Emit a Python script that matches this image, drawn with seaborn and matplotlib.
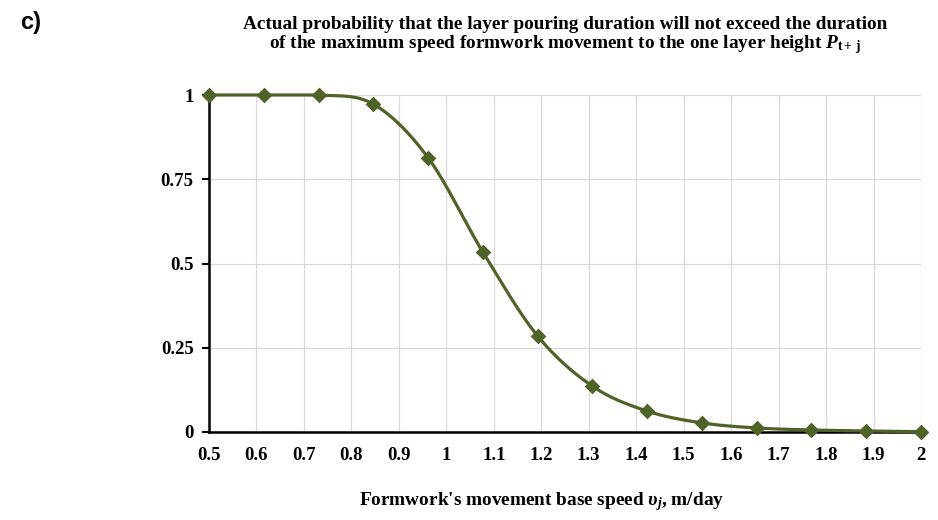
import numpy as np
import pandas as pd
import matplotlib
matplotlib.use("Agg")
import matplotlib.pyplot as plt
import seaborn as sns

# ---- data ----
speed = [0.5, 0.6154, 0.7308, 0.8462, 0.9615, 1.0769, 1.1923, 1.3077,
         1.4231, 1.5385, 1.6538, 1.7692, 1.8846, 2.0]
prob = [1.0, 1.0, 1.0, 0.973, 0.814, 0.534, 0.285, 0.136,
        0.062, 0.027, 0.012, 0.006, 0.003, 0.001]
x_ticks = [0.5, 0.6, 0.7, 0.8, 0.9, 1.0, 1.1, 1.2, 1.3, 1.4, 1.5, 1.6, 1.7, 1.8, 1.9, 2.0]
y_ticks = [0, 0.25, 0.5, 0.75, 1]
y_tick_labels = ["0", "0.25", "0.5", "0.75", "1"]

LINE = "#4f6228"
GRID = "#d9d9d9"

sns.set_theme(style="white")
plt.rcParams["font.family"] = ["Liberation Serif", "DejaVu Serif"]
plt.rcParams["mathtext.fontset"] = "custom"
plt.rcParams["mathtext.rm"] = "Liberation Serif:bold"
plt.rcParams["mathtext.bf"] = "Liberation Serif:bold"
plt.rcParams["mathtext.it"] = "Liberation Serif:italic:bold"
plt.rcParams["text.color"] = "black"
plt.rcParams["xtick.color"] = "black"
plt.rcParams["ytick.color"] = "black"
plt.rcParams["axes.labelcolor"] = "black"


def catmull_rom(xp, yp, n=30):
    """Smooth rendering of the line through the data points (like Excel's smoothed line)."""
    P = np.column_stack([xp, yp])
    P = np.vstack([P[0] - (P[1] - P[0]), P, P[-1] + (P[-1] - P[-2])])
    out = []
    t = np.linspace(0, 1, n, endpoint=False)[:, None]
    for i in range(1, len(P) - 2):
        p0, p1, p2, p3 = P[i - 1], P[i], P[i + 1], P[i + 2]
        seg = 0.5 * ((2 * p1) + (-p0 + p2) * t + (2 * p0 - 5 * p1 + 4 * p2 - p3) * t ** 2
                     + (-p0 + 3 * p1 - 3 * p2 + p3) * t ** 3)
        out.append(seg)
    out.append(P[-2][None, :])
    out = np.vstack(out)
    return out[:, 0], out[:, 1]


fig = plt.figure(figsize=(9.38, 5.2), dpi=100)
ax = fig.add_axes([209 / 938, 1 - 432 / 520, (921 - 209) / 938, (432 - 95) / 520])

cx, cy = catmull_rom(speed, prob)
curve = pd.DataFrame({"x": cx, "y": np.clip(cy, 0, 1)})
pts = pd.DataFrame({"x": speed, "y": prob})

sns.lineplot(data=curve, x="x", y="y", sort=False, estimator=None, color=LINE,
             linewidth=2.3, ax=ax, clip_on=False, zorder=3)
sns.scatterplot(data=pts, x="x", y="y", marker="D", s=64, color=LINE, linewidth=0,
                ax=ax, clip_on=False, zorder=4)

ax.set_xlim(0.5, 2.0)
ax.set_ylim(0, 1)
ax.set_xticks(x_ticks)
ax.set_xticklabels([f"{v:g}" for v in x_ticks])
ax.set_yticks(y_ticks)
ax.set_yticklabels(y_tick_labels)
ax.grid(True, color=GRID, linewidth=0.9)
ax.set_axisbelow(True)
for s in ["top", "right"]:
    ax.spines[s].set_visible(False)
for s in ["left", "bottom"]:
    ax.spines[s].set_color("black")
    ax.spines[s].set_linewidth(1.8)
ax.tick_params(axis="y", which="major", length=5, width=1.5, color="black", pad=6,
               left=True, labelsize=13.5, labelcolor="black")
ax.tick_params(axis="x", which="major", length=0, pad=11, labelsize=13.5,
               labelcolor="black")
for lab in ax.get_xticklabels() + ax.get_yticklabels():
    lab.set_fontweight("bold")
ax.set_xlabel("")
ax.set_ylabel("")

fig.text(565 / 938, 1 - 24 / 520,
         "Actual probability that the layer pouring duration will not exceed the duration",
         ha="center", va="center", fontsize=13.9, fontweight="bold")
fig.text(565 / 938, 1 - 45 / 520,
         r"of the maximum speed formwork movement to the one layer height $P_{\mathrm{t+\,j}}$",
         ha="center", va="center", fontsize=13.9, fontweight="bold")
fig.text(542 / 938, 1 - 502 / 520,
         r"Formwork's movement base speed $\upsilon_j$, m/day",
         ha="center", va="center", fontsize=13.9, fontweight="bold")
fig.text(20 / 938, 1 - 22 / 520, "c)", ha="left", va="center", fontsize=17,
         fontweight="bold", family=["Liberation Sans", "DejaVu Sans"])

fig.savefig("out.png", dpi=100)
